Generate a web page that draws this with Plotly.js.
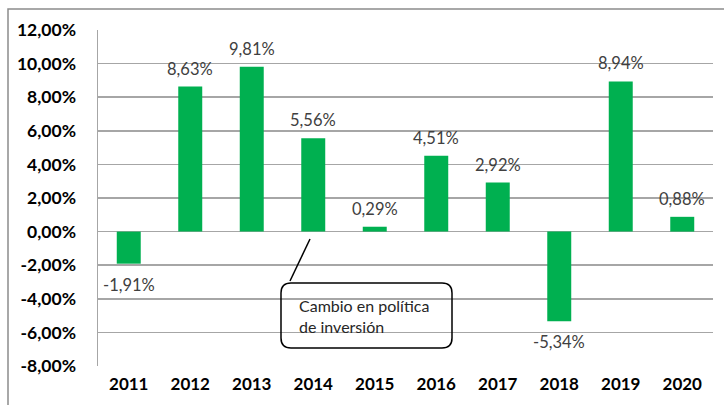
<!DOCTYPE html>
<html><head><meta charset="utf-8">
<script src="https://cdn.plot.ly/plotly-3.0.1.min.js"></script>
<style>html,body{margin:0;padding:0;background:#fff;}#chart{width:724px;height:405px;}</style>
</head><body><div id="chart"></div>
<script>
var years = ['2011','2012','2013','2014','2015','2016','2017','2018','2019','2020'];
var returns = [-1.91, 8.63, 9.81, 5.56, 0.29, 4.51, 2.92, -5.34, 8.94, 0.88];
var yTickVals = [-8,-6,-4,-2,0,2,4,6,8,10,12];
var yTickText = ['-8,00%','-6,00%','-4,00%','-2,00%','0,00%','2,00%','4,00%','6,00%','8,00%','10,00%','12,00%'];
var noteText = 'Cambio en política<br>de inversión';

function fmt(v){ return v.toFixed(2).replace('.', ',') + '%'; }

var W = 724, H = 405, mL = 98, mR = 11, mT = 30, mB = 39;
var pw = W - mL - mR, ph = H - mT - mB;
function px(x){ return (x - mL) / pw; }
function py(y){ return 1 - (y - mT) / ph; }

var FONT = 'Lato, "Open Sans", sans-serif';

var labelAnns = years.map(function(y, i){
  var v = returns[i];
  return {x: i, y: v, xref: 'x', yref: 'y', text: fmt(v), showarrow: false,
    yanchor: v >= 0 ? 'bottom' : 'top', yshift: v >= 0 ? 6 : -9,
    font: {family: FONT, size: 16.5, color: '#404040'}};
});

var bx0 = 281, bx1 = 452, by0 = 283, by1 = 348, r = 10;
function P(x, y){ return px(x).toFixed(5) + ',' + py(y).toFixed(5); }
var boxPath = 'M' + P(bx0 + r, by0) + ' L' + P(bx1 - r, by0) + ' Q' + P(bx1, by0) + ' ' + P(bx1, by0 + r) +
  ' L' + P(bx1, by1 - r) + ' Q' + P(bx1, by1) + ' ' + P(bx1 - r, by1) +
  ' L' + P(bx0 + r, by1) + ' Q' + P(bx0, by1) + ' ' + P(bx0, by1 - r) +
  ' L' + P(bx0, by0 + r) + ' Q' + P(bx0, by0) + ' ' + P(bx0 + r, by0) + ' Z';

var shapes = [
  {type: 'rect', xref: 'paper', yref: 'paper', x0: px(8), x1: px(730), y0: py(9), y1: py(420),
   line: {color: '#8c8c8c', width: 1.5}, fillcolor: 'rgba(0,0,0,0)', layer: 'below'},
  {type: 'path', xref: 'paper', yref: 'paper', path: boxPath, line: {color: '#000', width: 1.5}, fillcolor: 'rgba(0,0,0,0)'},
  {type: 'line', xref: 'paper', yref: 'paper', x0: px(310), y0: py(239), x1: px(290), y1: py(281), line: {color: '#000', width: 1.5}}
];

var anns = labelAnns.concat([
  {xref: 'paper', yref: 'paper', x: px(297), y: py(294), xanchor: 'left', yanchor: 'top', align: 'left',
   text: noteText, showarrow: false,
   font: {family: FONT, size: 16, color: '#262626'}}
]);

var data = [{
  type: 'bar', x: years.map(function(_, i){ return i; }), y: returns, width: 0.39,
  marker: {color: '#00B050', line: {width: 0}},
  hoverinfo: 'none'
}];

var layout = {
  width: W, height: H,
  margin: {l: mL, r: mR, t: mT, b: mB, pad: 0},
  paper_bgcolor: '#fff', plot_bgcolor: '#fff',
  showlegend: false,
  xaxis: {type: 'linear', range: [-0.5, 9.5], tickvals: years.map(function(_, i){ return i; }), ticktext: years,
    showgrid: false, zeroline: false, showline: false, ticks: '',
    tickfont: {family: FONT, size: 17, color: '#000', weight: 'bold'},
    ticklabelstandoff: 6},
  yaxis: {range: [-8, 12], tickvals: yTickVals, ticktext: yTickText,
    showgrid: true, gridcolor: '#a6a6a6', gridwidth: 1.5,
    zeroline: true, zerolinecolor: '#a6a6a6', zerolinewidth: 1.5,
    showline: true, linecolor: '#a6a6a6', linewidth: 1.5, ticks: '',
    ticklabelstandoff: 17,
    tickfont: {family: FONT, size: 17.5, color: '#000', weight: 'bold'}},
  shapes: shapes,
  annotations: anns
};

Plotly.newPlot('chart', data, layout, {staticPlot: true, displayModeBar: false});
</script>
</body></html>
